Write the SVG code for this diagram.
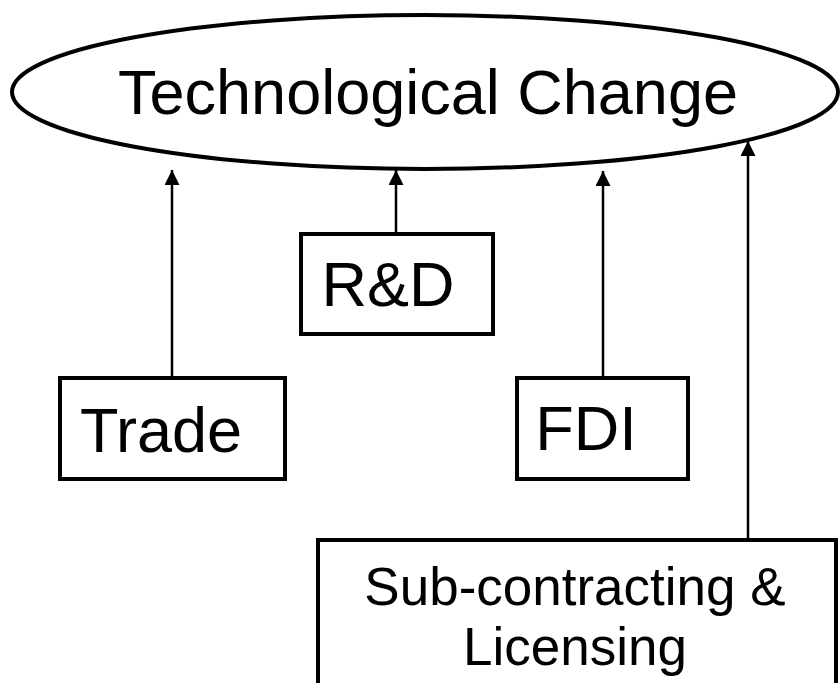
<svg xmlns="http://www.w3.org/2000/svg" width="840" height="683" viewBox="0 0 840 683">
  <style>
    .node { fill: #ffffff; stroke: #000000; stroke-width: 4; }
    .label { font-family: "Liberation Sans", Arial, sans-serif; fill: #000000; text-anchor: middle; }
    .edge { stroke: #000000; stroke-width: 2.5; fill: none; marker-end: url(#arrow); }
  </style>
  <defs>
    <marker id="arrow" viewBox="0 0 10 10" refX="10" refY="5" markerWidth="6" markerHeight="6" markerUnits="strokeWidth" orient="auto">
      <path d="M0,0 L10,5 L0,10 Z" fill="#000000"/>
    </marker>
  </defs>
  <rect width="840" height="683" fill="#ffffff"/>

  <g id="tech-change">
    <ellipse class="node" cx="425" cy="92" rx="413" ry="77"/>
    <text class="label" x="428" y="114" font-size="63">Technological Change</text>
  </g>

  <g id="trade">
    <rect class="node" x="60" y="378" width="225" height="101"/>
    <text class="label" x="161" y="452" font-size="63">Trade</text>
  </g>

  <g id="rnd">
    <rect class="node" x="301" y="234" width="192" height="100"/>
    <text class="label" x="388" y="306" font-size="63">R&amp;D</text>
  </g>

  <g id="fdi">
    <rect class="node" x="517" y="378" width="171" height="101"/>
    <text class="label" x="586" y="450" font-size="63">FDI</text>
  </g>

  <g id="subcontracting">
    <rect class="node" x="318" y="540" width="518" height="160"/>
    <text class="label" x="575" y="605" font-size="53">Sub-contracting &amp;</text>
    <text class="label" x="575" y="665" font-size="53">Licensing</text>
  </g>

  <g id="connectors">
    <line class="edge" x1="172" y1="376" x2="172" y2="170"/>
    <line class="edge" x1="396" y1="232" x2="396" y2="170"/>
    <line class="edge" x1="603" y1="376" x2="603" y2="171"/>
    <line class="edge" x1="748" y1="538" x2="748" y2="141"/>
  </g>
</svg>
